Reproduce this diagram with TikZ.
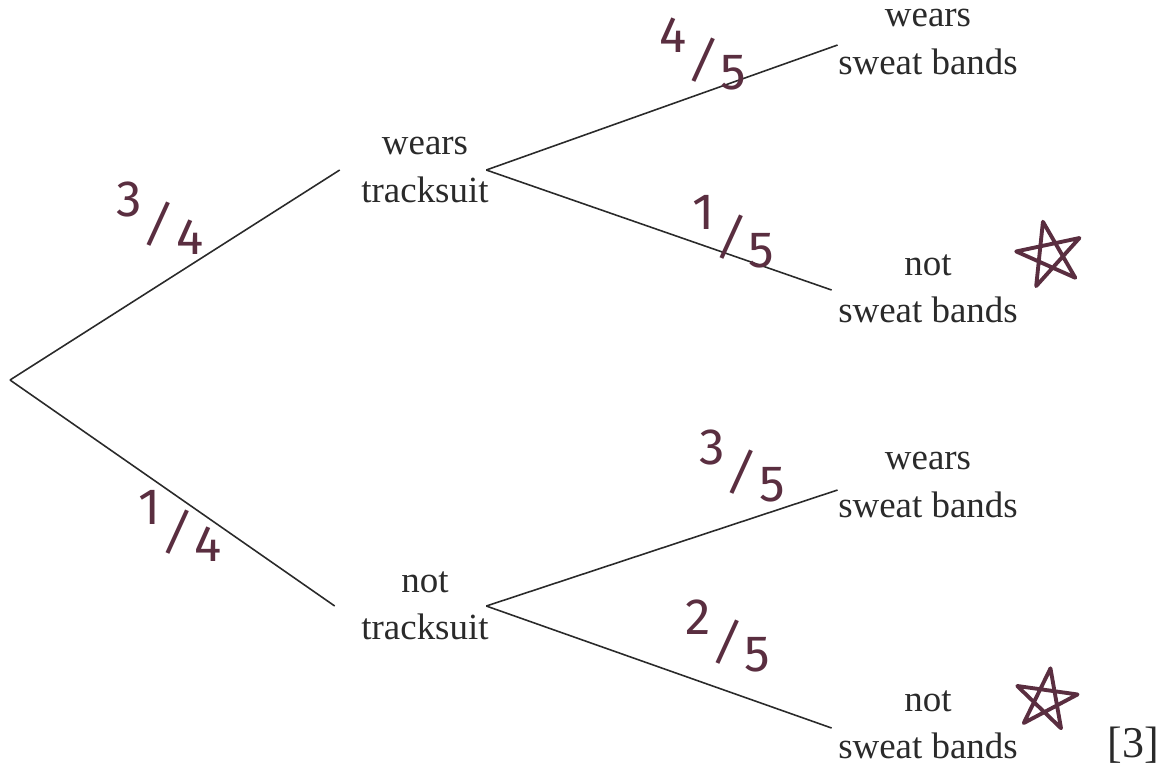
\documentclass[tikz,border=0pt]{standalone}
\usepackage{fontspec}
\setmainfont{Liberation Serif}
\newfontfamily\handfont{Fira Sans}
\usepackage{tikz}

\definecolor{ink}{HTML}{5A2E40}
\definecolor{pencil}{HTML}{2A2A2A}

\newcommand{\handfrac}[2]{\raisebox{0.85ex}{#1}\rotatebox{-10}{/}\raisebox{-0.55ex}{#2}}

\tikzset{
  branch/.style={draw=pencil, line width=0.45pt},
  outcome/.style={align=center, inner sep=0pt, font=\fontsize{10.5}{13.4}\selectfont, text=pencil},
  hand/.style={text=ink, inner sep=0pt, font=\handfont\fontsize{14.5}{15}\selectfont},
  starmark/.style={draw=ink, line width=1.1pt, line join=round}
}

\begin{document}
\begin{tikzpicture}[x=0.01cm, y=-0.01cm]
        \useasboundingbox (0,0) rectangle (1158,781);

        % Root of the tree
        \coordinate (root) at (10,380);

        % First stage: tracksuit
        \node[outcome] (wt) at (425,170) {wears\\tracksuit};
        \node[outcome] (nt) at (425,606) {not\\tracksuit};

        % Second stage: sweat bands
        \node[outcome] (wtw) at (928,42) {wears\\sweat bands};
        \node[outcome] (wtn) at (928,289) {not\\sweat bands};
        \node[outcome] (ntw) at (928,485) {wears\\sweat bands};
        \node[outcome] (ntn) at (928,725) {not\\sweat bands};

        % Branches
        \draw[branch] (root) -- ([xshift=-0.21cm]wt.west);
        \draw[branch] (root) -- ([xshift=-0.26cm]nt.west);
        \draw[branch] ([xshift=-0.03cm]wt.east) -- ([yshift=-0.03cm]wtw.west);
        \draw[branch] ([xshift=-0.03cm]wt.east) -- ([xshift=-0.06cm,yshift=-0.01cm]wtn.west);
        \draw[branch] ([xshift=-0.03cm]nt.east) -- ([yshift=-0.05cm]ntw.west);
        \draw[branch] ([xshift=-0.03cm]nt.east) -- ([xshift=-0.06cm,yshift=-0.03cm]ntn.west);

        % Probabilities (written by hand)
        \node[hand] (p34) at (160,218) {\handfrac{3}{4}};
        \node[hand] (p14) at (180,526) {\handfrac{1}{4}};
        \node[hand] (p45) at (703,54) {\handfrac{4}{5}};
        \node[hand] (p15) at (733,232) {\handfrac{1}{5}};
        \node[hand] (p35) at (742,466) {\handfrac{3}{5}};
        \node[hand] (p25) at (728,636) {\handfrac{2}{5}};

        % Stars
        \draw[starmark, shift={(1050,255)}, rotate=12]
          (-90:34) -- (54:34) -- (198:34) -- (-18:34) -- (126:34) -- cycle;
        \draw[starmark, shift={(1046,700)}, rotate=-8]
          (-90:32) -- (54:32) -- (198:32) -- (-18:32) -- (126:32) -- cycle;

        % Marks
        \node[outcome, font=\fontsize{12.5}{14}\selectfont] (marks) at (1133,745) {[3]};
    \end{tikzpicture}
\end{document}
